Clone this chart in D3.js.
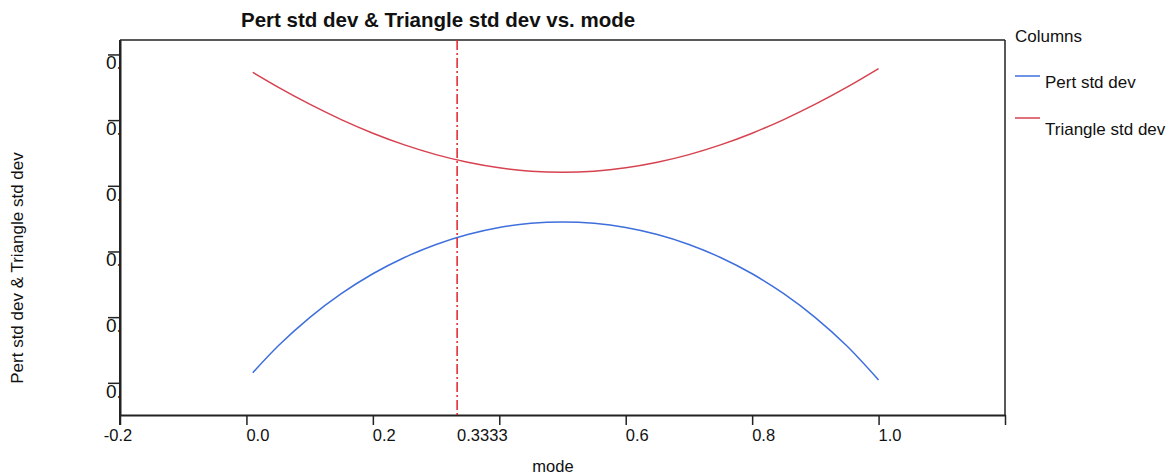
<!DOCTYPE html>
<html>
<head>
<meta charset="utf-8">
<script src="https://cdn.jsdelivr.net/npm/d3@7/dist/d3.min.js"></script>
<style>
  html, body { margin: 0; padding: 0; background: #fff; }
  svg { display: block; font-family: "Liberation Sans", Arial, sans-serif; }
</style>
</head>
<body>
<svg id="chart" width="1173" height="476"></svg>
<script>
// Standard deviation of the PERT and triangular distributions on [0, 1] as the mode moves
const modes = [0.01, 0.05, 0.10, 0.15, 0.20, 0.25, 0.30, 0.35, 0.40, 0.45, 0.50,
               0.55, 0.60, 0.65, 0.70, 0.75, 0.80, 0.85, 0.90, 0.95, 1.00];
const pertStd = [0.14307, 0.15119, 0.15986, 0.16714, 0.17321, 0.17817, 0.18214, 0.18516, 0.18730, 0.18856, 0.18898,
                 0.18856, 0.18730, 0.18516, 0.18214, 0.17817, 0.17321, 0.16714, 0.15986, 0.15119, 0.14086];
const triangleStd = [0.23453, 0.23004, 0.22485, 0.22017, 0.21602, 0.21246, 0.20950, 0.20716, 0.20548, 0.20446, 0.20412,
                     0.20446, 0.20548, 0.20716, 0.20950, 0.21246, 0.21602, 0.22017, 0.22485, 0.23004, 0.23570];
const markerMode = 0.3333;

const xTicks = [-0.2, 0.0, 0.2, 0.4, 0.6, 0.8, 1.0, 1.2];
const xLabels = ["-0.2", "0.0", "0.2", "0.3333", "0.6", "0.8", "1.0", ""];
const xLabelAt = [-0.2, 0.0, 0.2, 0.3333, 0.6, 0.8, 1.0, 1.2];
const yTicks = [0.14, 0.16, 0.18, 0.20, 0.22, 0.24];
const yLabels = ["0.14", "0.16", "0.18", "0.20", "0.22", "0.24"];

const seriesNames = ["Pert std dev", "Triangle std dev"];
const seriesColors = ["#3f6fdc", "#d6424f"];

const svg = d3.select("#chart");
const plotL = 120, plotR = 1005, plotT = 40, plotB = 415;

const x = d3.scaleLinear().domain([-0.2, 1.2]).range([plotL, plotR]);
const y = d3.scaleLinear().domain([0.1302, 0.2444]).range([plotB, plotT]);

// frame: top rule and right edge
svg.append("line").attr("x1", plotL).attr("x2", plotR).attr("y1", plotT).attr("y2", plotT)
  .attr("stroke", "#222").attr("stroke-width", 1.5);
svg.append("line").attr("x1", plotR).attr("x2", plotR).attr("y1", plotT).attr("y2", plotB)
  .attr("stroke", "#222").attr("stroke-width", 1.5);

// x axis
const xAxis = svg.append("g").attr("transform", `translate(0,${plotB})`)
  .call(d3.axisBottom(x).tickValues(xTicks).tickFormat("").tickSize(10).tickSizeOuter(0));
xAxis.select(".domain").attr("stroke", "#222").attr("stroke-width", 2);
xAxis.selectAll(".tick line").attr("stroke", "#222").attr("stroke-width", 1.5);

svg.append("g").selectAll("text").data(xLabels).join("text")
  .attr("x", (d, i) => i === 0 ? x(xLabelAt[i]) - 2 : x(xLabelAt[i]))
  .attr("y", 441)
  .attr("text-anchor", (d, i) => i === 0 ? "middle" : "start")
  .attr("font-size", 16.5).attr("fill", "#111")
  .text(d => d);

// y axis with labels clipped at the axis line
svg.append("defs").append("clipPath").attr("id", "ylabclip")
  .append("rect").attr("x", 0).attr("y", 0).attr("width", plotL - 1).attr("height", 476);

const yAxis = svg.append("g").attr("transform", `translate(${plotL},0)`)
  .call(d3.axisLeft(y).tickValues(yTicks).tickFormat("").tickSize(12).tickSizeOuter(0));
yAxis.select(".domain").attr("stroke", "#222").attr("stroke-width", 2);
yAxis.selectAll(".tick line").attr("stroke", "#222").attr("stroke-width", 1.5);
svg.append("line").attr("x1", plotL).attr("x2", plotL).attr("y1", plotT).attr("y2", plotB + 10)
  .attr("stroke", "#222").attr("stroke-width", 2);

svg.append("g").attr("clip-path", "url(#ylabclip)")
  .selectAll("text").data(yTicks).join("text")
  .attr("x", 106).attr("y", d => y(d) + 15)
  .attr("font-size", 19).attr("fill", "#111")
  .text((d, i) => yLabels[i]);

// curves
const rows = modes.map((m, i) => ({ m, pert: pertStd[i], tri: triangleStd[i] }));
const line = key => d3.line().x(d => x(d.m)).y(d => y(d[key])).curve(d3.curveMonotoneX);
svg.append("path").datum(rows).attr("d", line("pert"))
  .attr("fill", "none").attr("stroke", seriesColors[0]).attr("stroke-width", 1.5);
svg.append("path").datum(rows).attr("d", line("tri"))
  .attr("fill", "none").attr("stroke", seriesColors[1]).attr("stroke-width", 1.5);

// marker at the selected mode
svg.append("line").attr("x1", x(markerMode)).attr("x2", x(markerMode))
  .attr("y1", plotT).attr("y2", plotB)
  .attr("stroke", "#e3202a").attr("stroke-width", 1.5).attr("stroke-dasharray", "10,3,2,3");

// titles
svg.append("text").attr("x", 241).attr("y", 27).attr("font-size", 20.5).attr("font-weight", "bold")
  .attr("fill", "#111").text("Pert std dev & Triangle std dev vs. mode");
svg.append("text").attr("x", 553).attr("y", 472).attr("text-anchor", "middle")
  .attr("font-size", 16.5).attr("fill", "#111").text("mode");
svg.append("text").attr("transform", "translate(23,268) rotate(-90)").attr("text-anchor", "middle")
  .attr("font-size", 17).attr("fill", "#111").text("Pert std dev & Triangle std dev");

// legend
const lg = svg.append("g");
lg.append("text").attr("x", 1015).attr("y", 42).attr("font-size", 17).attr("fill", "#111").text("Columns");
const entryLineY = [76, 118];
const entryTextY = [88, 135];
seriesNames.forEach((name, i) => {
  lg.append("line").attr("x1", 1015).attr("x2", 1040).attr("y1", entryLineY[i]).attr("y2", entryLineY[i])
    .attr("stroke", seriesColors[i]).attr("stroke-width", 1.5);
  lg.append("text").attr("x", 1045).attr("y", entryTextY[i]).attr("font-size", 17)
    .attr("fill", "#111").text(name);
});
</script>
</body>
</html>
